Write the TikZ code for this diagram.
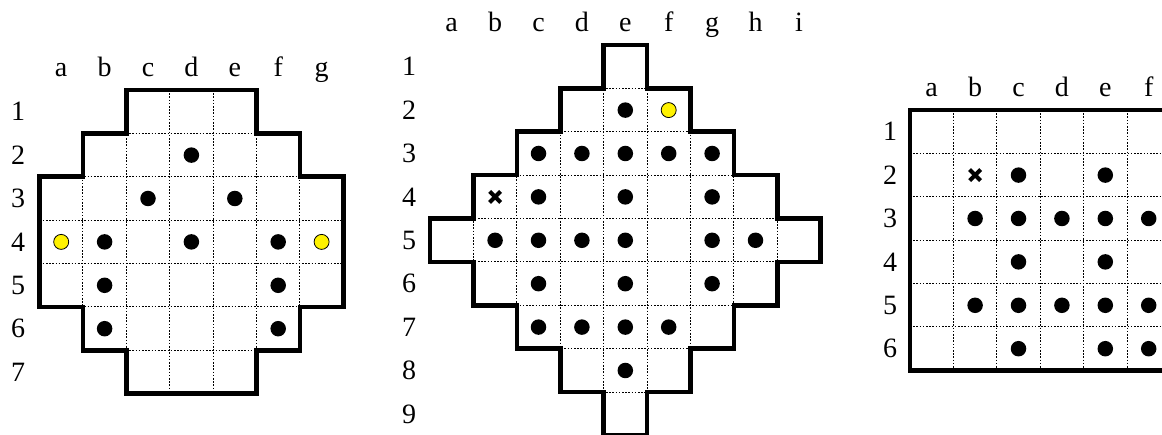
\documentclass[tikz,border=0pt]{standalone}
\usepackage{fontspec}
\setmainfont{Liberation Serif}
\tikzset{
  border/.style={line width=4.6pt, line join=miter},
  gridline/.style={line width=1pt, dash pattern=on 1.6pt off 1.6pt, black},
  stone/.style={circle, fill=black, inner sep=0pt, minimum size=15.5pt},
  ystone/.style={circle, draw=black, line width=0.8pt, fill=yellow, inner sep=0pt, minimum size=15pt},
  lbl/.style={inner sep=0pt, font=\fontsize{28}{33}\selectfont},
  crossmark/.style={line width=4pt},
}
\begin{document}
\begin{tikzpicture}[x=1pt, y=-1pt]
\clip (0,0) rectangle (1162,435);
\fill[white] (0,0) rectangle (1162,435);

% ---------------- Board 1 ----------------
\begin{scope}[xshift=39.5pt, yshift=-90pt, x=43.4pt, y=-43.4pt]
  \foreach \l [count=\i] in {a,b,c,d,e,f,g}
    \node[lbl, anchor=base] (b1col\i) at (\i-0.5,-0.3) {\l};
  \foreach \i in {1,...,7}
    \node[lbl] (b1row\i) at (-0.49,\i-0.5) {\i};
  \begin{scope}
    \clip (2,0) -- (5,0) -- (5,1) -- (6,1) -- (6,2) -- (7,2) -- (7,5) -- (6,5) -- (6,6) -- (5,6) -- (5,7) -- (2,7) -- (2,6) -- (1,6) -- (1,5) -- (0,5) -- (0,2) -- (1,2) -- (1,1) -- (2,1) -- cycle;
    \foreach \k in {1,...,6} {
      \draw[gridline] (\k,0) -- (\k,7);
      \draw[gridline] (0,\k) -- (7,\k);
    }
  \end{scope}
  \draw[border] (2,0) -- (5,0) -- (5,1) -- (6,1) -- (6,2) -- (7,2) -- (7,5) -- (6,5) -- (6,6) -- (5,6) -- (5,7) -- (2,7) -- (2,6) -- (1,6) -- (1,5) -- (0,5) -- (0,2) -- (1,2) -- (1,1) -- (2,1) -- cycle;
  \foreach \i/\j in {4/2, 3/3, 5/3, 2/4, 4/4, 6/4, 2/5, 6/5, 2/6, 6/6}
    \node[stone] (b1p\i\j) at (\i-0.5,\j-0.5) {};
  \foreach \i/\j in {1/4, 7/4}
    \node[ystone] (b1y\i\j) at (\i-0.5,\j-0.5) {};
\end{scope}

% ---------------- Board 2 ----------------
\begin{scope}[xshift=430pt, yshift=-45pt, x=43.4pt, y=-43.4pt]
  \foreach \l [count=\i] in {a,b,c,d,e,f,g,h,i}
    \node[lbl, anchor=base] (b2col\i) at (\i-0.5,-0.3) {\l};
  \foreach \i in {1,...,9}
    \node[lbl] (b2row\i) at (-0.48,\i-0.5) {\i};
  \begin{scope}
    \clip (4,0) -- (5,0) -- (5,1) -- (6,1) -- (6,2) -- (7,2) -- (7,3) -- (8,3) -- (8,4) -- (9,4) -- (9,5) -- (8,5) -- (8,6) -- (7,6) -- (7,7) -- (6,7) -- (6,8) -- (5,8) -- (5,9) -- (4,9) -- (4,8) -- (3,8) -- (3,7) -- (2,7) -- (2,6) -- (1,6) -- (1,5) -- (0,5) -- (0,4) -- (1,4) -- (1,3) -- (2,3) -- (2,2) -- (3,2) -- (3,1) -- (4,1) -- cycle;
    \foreach \k in {1,...,8} {
      \draw[gridline] (\k,0) -- (\k,9);
      \draw[gridline] (0,\k) -- (9,\k);
    }
  \end{scope}
  \draw[border] (4,0) -- (5,0) -- (5,1) -- (6,1) -- (6,2) -- (7,2) -- (7,3) -- (8,3) -- (8,4) -- (9,4) -- (9,5) -- (8,5) -- (8,6) -- (7,6) -- (7,7) -- (6,7) -- (6,8) -- (5,8) -- (5,9) -- (4,9) -- (4,8) -- (3,8) -- (3,7) -- (2,7) -- (2,6) -- (1,6) -- (1,5) -- (0,5) -- (0,4) -- (1,4) -- (1,3) -- (2,3) -- (2,2) -- (3,2) -- (3,1) -- (4,1) -- cycle;
  \foreach \i/\j in {5/2, 3/3, 4/3, 5/3, 6/3, 7/3, 3/4, 5/4, 7/4, 2/5, 3/5, 4/5, 5/5, 7/5, 8/5, 3/6, 5/6, 7/6, 3/7, 4/7, 5/7, 6/7, 5/8}
    \node[stone] (b2p\i\j) at (\i-0.5,\j-0.5) {};
  \node[ystone] (b2y62) at (5.5,1.5) {};
  \coordinate (b2x) at (1.5,3.5);
  \draw[crossmark] ([xshift=-5.5pt,yshift=-5.5pt]b2x) -- ([xshift=5.5pt,yshift=5.5pt]b2x);
  \draw[crossmark] ([xshift=-5.5pt,yshift=5.5pt]b2x) -- ([xshift=5.5pt,yshift=-5.5pt]b2x);
\end{scope}

% ---------------- Board 3 ----------------
\begin{scope}[xshift=910pt, yshift=-110pt, x=43.4pt, y=-43.4pt]
  \foreach \l [count=\i] in {a,b,c,d,e,f}
    \node[lbl, anchor=base] (b3col\i) at (\i-0.5,-0.3) {\l};
  \foreach \i in {1,...,6}
    \node[lbl] (b3row\i) at (-0.46,\i-0.5) {\i};
  \foreach \k in {1,...,6}
    \draw[gridline] (\k,0) -- (\k,6);
  \foreach \k in {1,...,5}
    \draw[gridline] (0,\k) -- (7,\k);
  \draw[border] (7,0) -- (0,0) -- (0,6) -- (7,6);
  \foreach \i/\j in {3/2, 5/2, 2/3, 3/3, 4/3, 5/3, 6/3, 3/4, 5/4, 2/5, 3/5, 4/5, 5/5, 6/5, 3/6, 5/6, 6/6}
    \node[stone] (b3p\i\j) at (\i-0.5,\j-0.5) {};
  \coordinate (b3x) at (1.5,1.5);
  \draw[crossmark] ([xshift=-5.5pt,yshift=-5.5pt]b3x) -- ([xshift=5.5pt,yshift=5.5pt]b3x);
  \draw[crossmark] ([xshift=-5.5pt,yshift=5.5pt]b3x) -- ([xshift=5.5pt,yshift=-5.5pt]b3x);
\end{scope}
\end{tikzpicture}
\end{document}
